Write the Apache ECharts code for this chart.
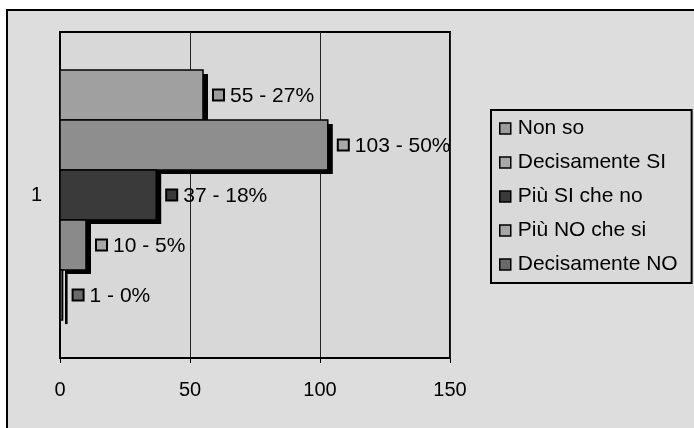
<!DOCTYPE html>
<html>
<head>
<meta charset="utf-8">
<script src="https://cdn.jsdelivr.net/npm/echarts@6/dist/echarts.min.js"></script>
<style>html,body{margin:0;padding:0;background:#fff;}#c{width:694px;height:428px;}</style>
</head>
<body>
<div id="c"></div>
<script>
const categories = ['1'];
const seriesNames = ['Non so', 'Decisamente SI', 'Più SI che no', 'Più NO che si', 'Decisamente NO'];
const values = [55, 103, 37, 10, 1];
const percents = [27, 50, 18, 5, 0];
const xTicks = [0, 50, 100, 150];

const barColors = ['#a0a0a0', '#8e8e8e', '#3a3a3a', '#8a8a8a', '#555555'];
const boxColors = ['#9c9c9c', '#a8a8a8', '#3a3a3a', '#a6a6a6', '#6a6a6a'];
const FONT = 'Liberation Sans, Arial, sans-serif';

const chart = echarts.init(document.getElementById('c'));

function makeRender(i) {
  return function (params, api) {
    const v = api.value(0);
    const c0 = api.coord([0, api.value(1)]);
    const c1 = api.coord([v, api.value(1)]);
    const band = api.size([0, 1])[1];
    const bw = band * 0.1535;
    const n = seriesNames.length;
    const y0 = c0[1] - bw * n / 2 + i * bw;
    const w = c1[0] - c0[0];
    const cy = y0 + bw / 2;
    return {
      type: 'group',
      children: [
        { type: 'rect', shape: { x: c0[0] + 5, y: y0 + 4, width: w, height: bw }, style: { fill: '#000' } },
        { type: 'rect', shape: { x: c0[0], y: y0, width: w, height: bw }, style: { fill: barColors[i], stroke: '#000', lineWidth: 1.5 } },
        { type: 'rect', shape: { x: c1[0] + 10, y: cy - 5.5, width: 11, height: 11 }, style: { fill: boxColors[i], stroke: '#000', lineWidth: 2 } },
        { type: 'text', style: { x: c1[0] + 27, y: cy + 1, text: values[i] + ' - ' + percents[i] + '%', fontSize: 21, fontFamily: FONT, fill: '#000', verticalAlign: 'middle', align: 'left' } }
      ]
    };
  };
}

const series = seriesNames.map(function (name, i) {
  return {
    name: name,
    type: 'custom',
    z: 2 + i,
    renderItem: makeRender(i),
    encode: { x: 0, y: 1 },
    data: [[values[i], 0]],
    itemStyle: { color: boxColors[i], borderColor: '#000', borderWidth: 1.5 },
    silent: true
  };
});

chart.setOption({
  animation: false,
  textStyle: { fontFamily: FONT },
  graphic: [{
    type: 'rect', z: -10, silent: true,
    shape: { x: 7, y: 10, width: 700, height: 430 },
    style: { fill: '#dddddd', stroke: '#000', lineWidth: 2 }
  }],
  grid: {
    left: 60, right: 244, top: 32, bottom: 70,
    show: true, backgroundColor: '#d8d8d8', borderColor: '#000', borderWidth: 2
  },
  legend: {
    orient: 'vertical',
    left: 491, top: 110,
    data: seriesNames,
    icon: 'rect',
    itemWidth: 11, itemHeight: 11,
    itemGap: 13,
    padding: [8, 14, 8, 8],
    backgroundColor: '#d9d9d9',
    borderColor: '#000', borderWidth: 2,
    textStyle: { fontSize: 21, fontFamily: FONT, color: '#000', padding: [0, 0, 0, 2] },
    itemStyle: { borderColor: '#000', borderWidth: 1.5 }
  },
  xAxis: {
    type: 'value', min: xTicks[0], max: xTicks[xTicks.length - 1], interval: 50,
    axisLine: { show: true, lineStyle: { color: '#000', width: 2 } },
    axisTick: { show: true, length: 5, lineStyle: { color: '#000' } },
    axisLabel: { fontSize: 20, color: '#000', margin: 22, fontFamily: FONT },
    splitLine: { show: true, lineStyle: { color: '#222', width: 1 } }
  },
  yAxis: {
    type: 'category', data: categories,
    axisLine: { show: true, lineStyle: { color: '#000', width: 2 } },
    axisTick: { show: false },
    axisLabel: { fontSize: 20, color: '#000', margin: 18, fontFamily: FONT }
  },
  series: series
});
</script>
</body>
</html>
